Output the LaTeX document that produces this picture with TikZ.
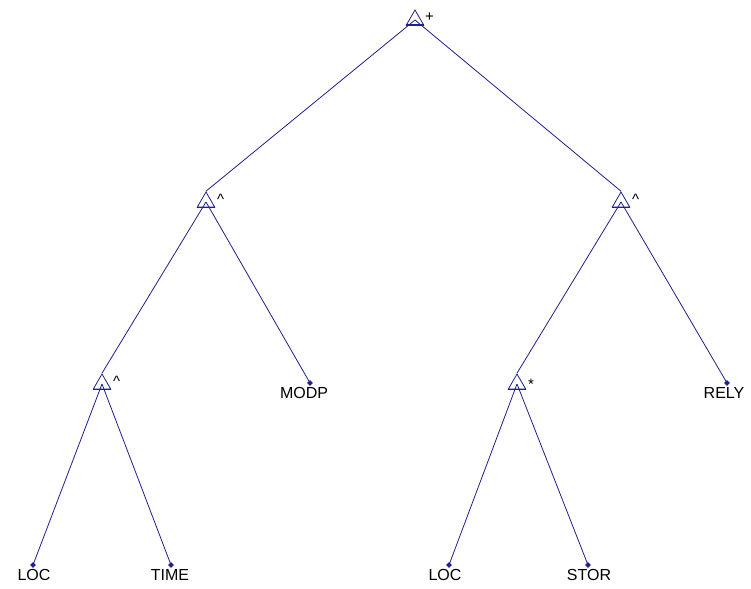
\documentclass[tikz,border=0pt]{standalone}
\usepackage{fontspec}
\setmainfont{Liberation Sans}
\usetikzlibrary{shapes.geometric}
\definecolor{treeblue}{RGB}{32,32,140}
\tikzset{
  op/.style={regular polygon, regular polygon sides=3, draw=treeblue, minimum size=20pt, inner sep=0pt, line width=0.8pt},
  leaf/.style={diamond, fill=treeblue, inner sep=0pt, minimum size=6pt},
  lbl/.style={font=\fontsize{16}{16}\selectfont, text=black, inner sep=0pt},
  oplbl/.style={font=\fontsize{15}{15}\selectfont, text=black, inner sep=0pt, anchor=west},
  edge/.style={treeblue, line width=0.8pt}
}
\begin{document}
\begin{tikzpicture}[x=1pt, y=-1pt]
  \useasboundingbox[fill=white] (0,0) rectangle (751,588);
  % operators
  \node[op] (r) at (415,20) {};
  \node[op] (a) at (206,202) {};
  \node[op] (b) at (621,202) {};
  \node[op] (aa) at (102,384) {};
  \node[op] (ba) at (517,384) {};
  % leaves
  \node[leaf] (ab) at (310,383) {};
  \node[leaf] (bb) at (727,383) {};
  \node[leaf] (aaa) at (33,565) {};
  \node[leaf] (aab) at (171,565) {};
  \node[leaf] (baa) at (449,565) {};
  \node[leaf] (bab) at (588,565) {};
  % thick bases
  \foreach \n in {r,a,b,aa,ba}
    \draw[treeblue, line width=1.8pt] (\n.corner 2) -- (\n.corner 3);
  % connectors
  \draw[edge] (r.center) -- (a.corner 1);
  \draw[edge] (r.center) -- (b.corner 1);
  \draw[edge] (a.center) -- (aa.corner 1);
  \draw[edge] (a.center) -- (ab.center);
  \draw[edge] (b.center) -- (ba.corner 1);
  \draw[edge] (b.center) -- (bb.center);
  \draw[edge] (aa.center) -- (aaa.center);
  \draw[edge] (aa.center) -- (aab.center);
  \draw[edge] (ba.center) -- (baa.center);
  \draw[edge] (ba.center) -- (bab.center);
  % operator labels
  \node[oplbl] (rl) at (425,17) {+};
  \node[oplbl] (al) at (217,199) {\textasciicircum};
  \node[oplbl] (bl) at (632,199) {\textasciicircum};
  \node[oplbl] (aal) at (113,381) {\textasciicircum};
  \node[oplbl] (bal) at (528,384) {*};
  % leaf labels
  \node[lbl, anchor=north] (abl) at (304,387) {MODP};
  \node[lbl, anchor=north] (bbl) at (724,387) {RELY};
  \node[lbl, anchor=north] (aaal) at (34,569) {LOC};
  \node[lbl, anchor=north] (aabl) at (170,569) {TIME};
  \node[lbl, anchor=north] (baal) at (445,569) {LOC};
  \node[lbl, anchor=north] (babl) at (589,569) {STOR};
\end{tikzpicture}
\end{document}
